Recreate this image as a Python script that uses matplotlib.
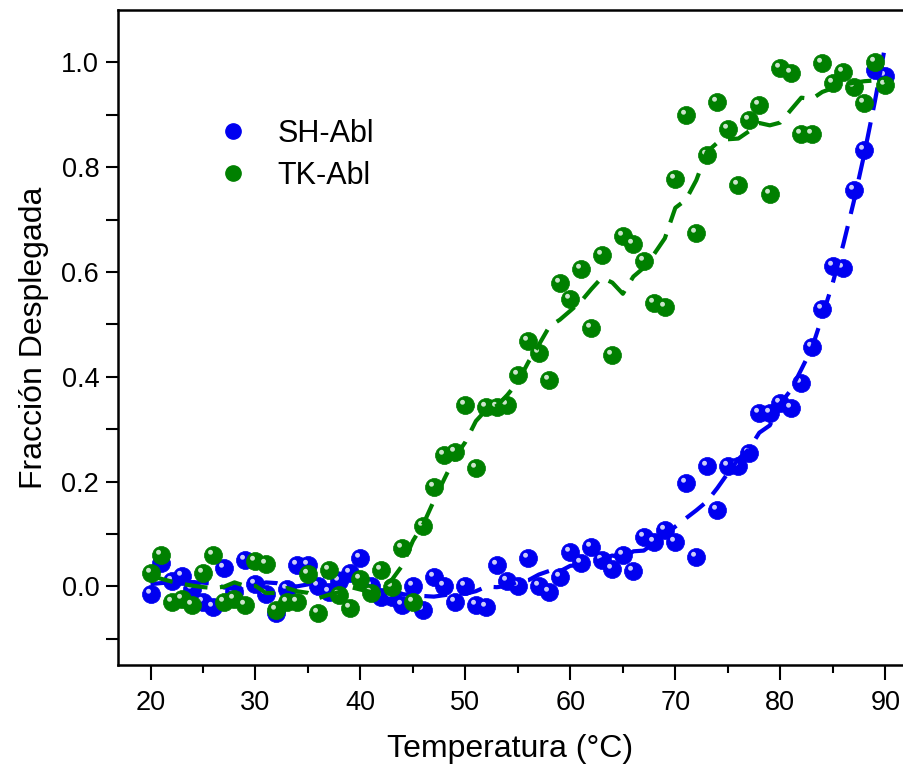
import numpy as np
import matplotlib
matplotlib.use("Agg")
import matplotlib.pyplot as plt
from matplotlib.path import Path
from matplotlib.markers import MarkerStyle
from matplotlib.lines import Line2D
from matplotlib.legend_handler import HandlerTuple

plt.rcParams['font.family'] = ['Liberation Sans', 'DejaVu Sans']

# temperatures (°C)
temp = list(range(20, 91))

# SH-Abl unfolded fraction
sh_abl = [-0.015, 0.045, 0.01, 0.02, -0.005, -0.03, -0.04, 0.035, -0.01, 0.05,
          0.005, -0.015, -0.05, -0.005, 0.04, 0.04, 0.0, -0.01, 0.01, 0.025,
          0.055, 0.0, -0.02, -0.02, -0.036, 0.0, -0.045, 0.017, 0.0, -0.03,
          0.0, -0.035, -0.04, 0.04, 0.01, 0.0, 0.055, 0.0, -0.01, 0.017,
          0.065, 0.045, 0.075, 0.05, 0.033, 0.06, 0.03, 0.095, 0.085, 0.108,
          0.085, 0.198, 0.057, 0.229, 0.145, 0.229, 0.229, 0.255, 0.33, 0.331,
          0.35, 0.341, 0.389, 0.457, 0.53, 0.611, 0.608, 0.756, 0.832, 0.985,
          0.975]

# TK-Abl unfolded fraction
tk_abl = [0.025, 0.06, -0.03, -0.025, -0.035, 0.025, 0.06, -0.03, -0.025, -0.035,
          0.048, 0.042, -0.045, -0.03, -0.03, 0.023, -0.05, 0.032, -0.017, -0.042,
          0.015, -0.013, 0.032, -0.002, 0.074, -0.03, 0.115, 0.189, 0.251, 0.257,
          0.347, 0.225, 0.343, 0.343, 0.347, 0.404, 0.469, 0.446, 0.394, 0.579,
          0.549, 0.606, 0.493, 0.632, 0.442, 0.669, 0.653, 0.621, 0.541, 0.533,
          0.777, 0.899, 0.674, 0.823, 0.924, 0.872, 0.766, 0.891, 0.918, 0.749,
          0.989, 0.979, 0.863, 0.863, 0.998, 0.96, 0.981, 0.954, 0.922, 1.0,
          0.956]

series = [("SH-Abl", sh_abl, "#0000f0"), ("TK-Abl", tk_abl, "#008000")]


def smooth(x, y, win=13, order=2):
    # Savitzky-Golay style local quadratic fit, window shifted at the ends
    x = np.asarray(x, float)
    y = np.asarray(y, float)
    n = len(y)
    h = win // 2
    out = np.empty(n)
    for i in range(n):
        lo = max(0, min(i - h, n - win))
        c = np.polyfit(x[lo:lo + win], y[lo:lo + win], order)
        out[i] = np.polyval(c, x[i])
    return out


# highlight marker: small circle up-left inside a [-1, 1] box
circ = Path.unit_circle()
hl_verts = np.vstack([[[1, 1]], [[-1, -1]], circ.vertices * 0.27 + [-0.33, 0.36]])
hl_codes = np.concatenate([[Path.MOVETO, Path.MOVETO], circ.codes])
hl_marker = MarkerStyle(Path(hl_verts, hl_codes))

fig = plt.figure(figsize=(9.04, 7.71), dpi=100)
ax = fig.add_axes([0.1305, 0.1375, 0.8685, 0.8495])

ms = 13
handles = []
for name, vals, col in series:
    ax.plot(temp, vals, ls='none', marker='o', ms=ms, mfc=col, mec=col, mew=0.5)
    ax.plot(temp, vals, ls='none', marker=hl_marker, ms=ms, mfc='white',
            mec='none', alpha=0.8)
    ln, = ax.plot(temp, smooth(temp, vals), color=col, lw=3)
    ln.set_dashes((5.5, 3))
    h1 = Line2D([], [], ls='none', marker='o', ms=11, mfc=col, mec=col)
    h2 = Line2D([], [], ls='none', marker=hl_marker, ms=11, mfc='white',
                mec='none', alpha=0.8)
    handles.append((h1, h2))

ax.legend(handles, [s[0] for s in series], handler_map={tuple: HandlerTuple(ndivide=None)},
          loc='upper left', bbox_to_anchor=(0.118, 0.857), frameon=False,
          fontsize=22, handlelength=0.9, handletextpad=0.78, labelspacing=0.4,
          borderpad=0, numpoints=1)

ax.set_xlim(16.9, 91.7)
ax.set_ylim(-0.15, 1.1)
ax.set_xticks(np.arange(20, 91, 10))
ax.set_xticks(np.arange(25, 91, 10), minor=True)
ax.set_yticks(np.arange(0, 1.01, 0.2))
ax.set_yticks(np.arange(-0.1, 1.01, 0.2), minor=True)
ax.yaxis.set_major_formatter(matplotlib.ticker.FormatStrFormatter('%.1f'))

for s in ax.spines.values():
    s.set_linewidth(1.8)
ax.spines['right'].set_visible(False)
ax.tick_params(axis='both', which='both', direction='out', width=1.5, labelsize=19.5)
ax.tick_params(axis='x', which='major', length=11, pad=7)
ax.tick_params(axis='x', which='minor', length=6)
ax.tick_params(axis='y', which='both', length=8.5, pad=5)

ax.set_xlabel('Temperatura (°C)', fontsize=23, labelpad=13)
ax.set_ylabel('Fracción Desplegada', fontsize=23, labelpad=9)

fig.savefig('out.png', dpi=100)
